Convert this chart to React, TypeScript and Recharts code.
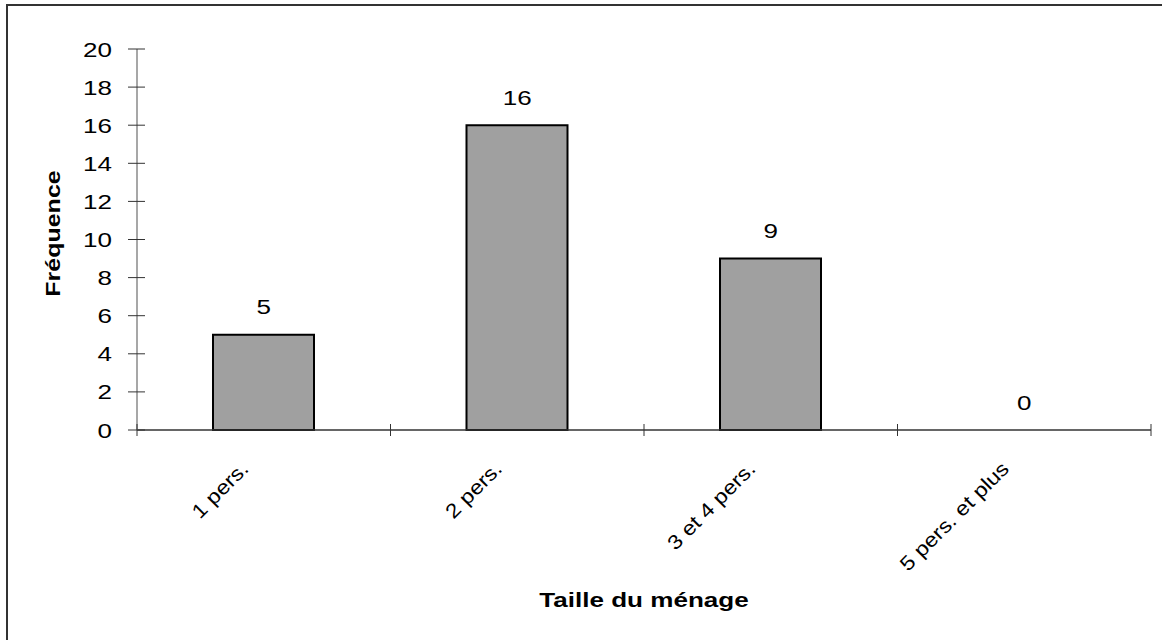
import React from 'react';
import { ComposedChart, Bar, Line, XAxis, YAxis } from 'recharts';

// Household size distribution
const categories = ['1 pers.', '2 pers.', '3 et 4 pers.', '5 pers. et plus'];
const frequencies = [5, 16, 9, 0];
const yTicks = [0, 2, 4, 6, 8, 10, 12, 14, 16, 18, 20];

const data = categories.map((name, i) => ({ name, value: frequencies[i] }));

const FONT = '"Liberation Sans", Arial, sans-serif';
const AXIS_DARK = '#333333';

// Text drawn at an anchor point, rotated, then widened along its baseline
const WideText = ({ x, y, anchor = 'middle', rotate = 0, stretch = 1.24, size = 21, bold = false, dy = '0', children }: any) => (
  <g transform={`translate(${x}, ${y}) rotate(${rotate}) scale(${stretch}, 1)`}>
    <text
      x={0}
      y={0}
      dy={dy}
      textAnchor={anchor}
      fontFamily={FONT}
      fontSize={size}
      fontWeight={bold ? 'bold' : 'normal'}
      fill="#000"
    >
      {children}
    </text>
  </g>
);

const YTick = (props: any) => {
  const { x, y, payload } = props;
  return (
    <g>
      <line x1={x - 9} y1={y} x2={x + 8} y2={y} stroke={AXIS_DARK} strokeWidth={1} />
      <WideText x={x - 25} y={y} anchor="end" dy="0.36em">
        {payload.value}
      </WideText>
    </g>
  );
};

// Category label plus the tick marks at the edges of its band
const CategoryTick = (props: any) => {
  const { x, y, payload, index, visibleTicksCount, width } = props;
  const half = payload.offset ?? width / visibleTicksCount / 2;
  const isLast = index === visibleTicksCount - 1;
  return (
    <g>
      <line x1={x - half} y1={y - 6} x2={x - half} y2={y + 6} stroke={AXIS_DARK} strokeWidth={1} />
      {isLast && <line x1={x + half} y1={y - 6} x2={x + half} y2={y + 6} stroke={AXIS_DARK} strokeWidth={1} />}
      <WideText x={x - 14} y={y + 40} anchor="end" rotate={-45} stretch={1.15} size={20}>
        {payload.value}
      </WideText>
    </g>
  );
};

const ValueLabel = (props: any) => {
  const { x, y, value } = props;
  return (
    <WideText x={x} y={y - 28} dy="0.36em">
      {value}
    </WideText>
  );
};

const YTitle = (props: any) => {
  const { viewBox } = props;
  return (
    <WideText
      x={viewBox.x + 52}
      y={viewBox.y + viewBox.height / 2 - 6}
      rotate={-90}
      stretch={1.19}
      bold
      dy="0.36em"
    >
      Fréquence
    </WideText>
  );
};

export default function App() {
  return (
    <div style={{ position: 'absolute', left: 0, top: 0, width: 1162, height: 640, overflow: 'hidden', background: '#fff' }}>
      <div
        style={{
          position: 'absolute',
          left: 6,
          top: 4,
          width: 1300,
          height: 800,
          borderTop: '2px solid #333',
          borderLeft: '2px solid #333',
        }}
      />
      <div style={{ position: 'absolute', left: 0, top: 0 }}>
        <ComposedChart width={1162} height={640} data={data} margin={{ top: 49, right: 11, bottom: 209, left: 0 }}>
          <XAxis
            dataKey="name"
            height={1}
            tickSize={0}
            tickMargin={0}
            tickLine={false}
            axisLine={{ stroke: AXIS_DARK, strokeWidth: 1.5 }}
            interval={0}
            tick={<CategoryTick />}
          />
          <YAxis
            width={137}
            domain={[0, 20]}
            ticks={yTicks}
            tickSize={0}
            tickMargin={0}
            tickLine={false}
            tick={<YTick />}
            axisLine={{ stroke: '#8a8a8a', strokeWidth: 1.5 }}
            label={<YTitle />}
          />
          <Bar dataKey="value" fill="#a0a0a0" stroke="#000" strokeWidth={2} barSize={101} isAnimationActive={false} />
          <Line
            dataKey="value"
            stroke="none"
            dot={false}
            activeDot={false}
            isAnimationActive={false}
            label={<ValueLabel />}
          />
        </ComposedChart>
      </div>
      <div
        style={{
          position: 'absolute',
          left: 137,
          width: 1014,
          top: 588,
          textAlign: 'center',
          fontFamily: FONT,
          fontWeight: 'bold',
          fontSize: 21,
          color: '#000',
          transform: 'scaleX(1.24)',
        }}
      >
        Taille du ménage
      </div>
    </div>
  );
}
